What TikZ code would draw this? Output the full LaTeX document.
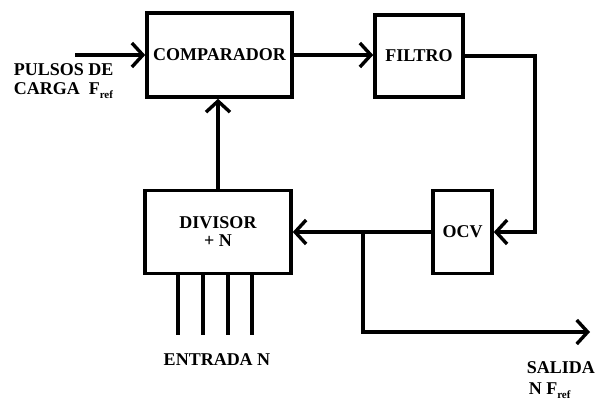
\documentclass[tikz,border=0pt]{standalone}
\usepackage{fontspec}
\setmainfont{Liberation Serif}
\usetikzlibrary{arrows.meta}
\newcommand{\refsub}{\raisebox{-4pt}{\fontsize{11}{11}\selectfont ref}}
\begin{document}
\begin{tikzpicture}[x=1pt,y=-1pt,line width=3.6pt,
  blk/.style={draw,line width=3.6pt,inner sep=0pt,align=center,
    font=\bfseries\fontsize{18}{18}\selectfont},
  lbl/.style={font=\bfseries\fontsize{18}{18}\selectfont,inner sep=0pt},
  arr/.style={-{Straight Barb[length=11pt,width=24pt,line width=3.4pt]}}]
\useasboundingbox (0,0) rectangle (596,405);
\node[blk,minimum width=145pt,minimum height=84pt] (comp) at (219.5,55) {COMPARADOR};
\node[blk,minimum width=88pt,minimum height=82pt] (filt) at (419,56) {FILTRO};
\node[blk,minimum width=59pt,minimum height=83pt] (ocv) at (462.5,232) {OCV};
\node[blk,minimum width=146pt,minimum height=83pt] (div) at (218,232) {DIVISOR\\[0pt]+ N};
\coordinate (in) at (75,55);
\coordinate (fx) at (535,0);
\coordinate (br) at (363,232);
\coordinate (brd) at (363,332);
\coordinate (out) at (590,332);
\draw[arr] (in) -- (comp.west);
\draw[arr] (comp.east) -- (comp.east -| filt.west);
\draw[arr] (filt.east) -- (filt.east -| fx) |- (ocv.east);
\draw[arr] (ocv.west) -- (div.east);
\draw[arr] (br) -- (brd) -- (out);
\draw[arr] (div.north) -- (div.north |- comp.south);
\foreach \i/\x in {1/178,2/203,3/228,4/252}{
  \coordinate (e\i) at (\x,335);
  \draw (div.south -| e\i) -- (e\i);
}
\node[lbl,anchor=base west] (p1) at (12,75) {PULSOS DE};
\node[lbl,anchor=base west] (p2) at (12,94) {CARGA\ \ F\refsub};
\node[lbl,anchor=base] (ent) at (217,365) {ENTRADA N};
\node[lbl,anchor=base west] (s1) at (525,373) {SALIDA};
\node[lbl,anchor=base west] (s2) at (527,394) {N F\refsub};
\end{tikzpicture}
\end{document}
